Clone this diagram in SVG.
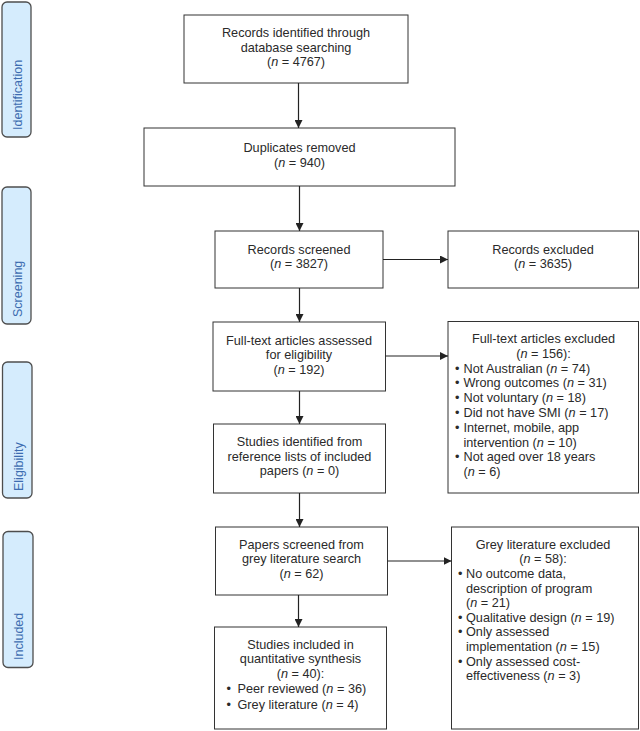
<svg xmlns="http://www.w3.org/2000/svg" width="640" height="731" viewBox="0 0 640 731">
<style>
.bx{fill:#fff;stroke:#333;stroke-width:1}
.st{fill:#d5ecfd;stroke:#4d4d4d;stroke-width:1.3}
.sl{font-family:"Liberation Sans",Arial,sans-serif;font-size:12.5px;fill:#3d6cb0}
text.t{font-family:"Liberation Sans",Arial,sans-serif;font-size:12.7px;fill:#2a2a2a}
.c{text-anchor:middle}
.ar{stroke:#222;stroke-width:1.2;fill:none;marker-end:url(#ah)}
</style>
<defs>
<marker id="ah" markerUnits="userSpaceOnUse" markerWidth="9" markerHeight="8" refX="8" refY="4" orient="auto">
<path d="M0,0 L8,4 L0,8 z" fill="#222"/>
</marker>
</defs>

<g id="stage-identification"><rect class="st" x="2" y="2" width="29" height="135" rx="5"/><text class="sl" transform="translate(22,130) rotate(-90)">Identification</text></g>
<g id="stage-screening"><rect class="st" x="2" y="187" width="29" height="137" rx="5"/><text class="sl" transform="translate(22,317) rotate(-90)">Screening</text></g>
<g id="stage-eligibility"><rect class="st" x="2.5" y="362" width="29.5" height="136" rx="5"/><text class="sl" transform="translate(22.5,491) rotate(-90)">Eligibility</text></g>
<g id="stage-included"><rect class="st" x="3" y="531.5" width="30" height="136" rx="5"/><text class="sl" transform="translate(23,660) rotate(-90)">Included</text></g>

<g id="records-identified"><rect class="bx" x="184" y="15" width="224" height="68"/>
<text class="t c" x="296" y="37.2">Records identified through</text>
<text class="t c" x="296" y="51.8">database searching</text>
<text class="t c" x="296" y="66.4">(<tspan font-style="italic">n</tspan> = 4767)</text></g>

<g id="duplicates"><rect class="bx" x="144" y="128" width="311" height="58"/>
<text class="t c" x="299.5" y="151.5">Duplicates removed</text>
<text class="t c" x="299.5" y="166.5">(<tspan font-style="italic">n</tspan> = 940)</text></g>

<g id="records-screened"><rect class="bx" x="215" y="231" width="168" height="57"/>
<text class="t c" x="299" y="253.6">Records screened</text>
<text class="t c" x="299" y="268.4">(<tspan font-style="italic">n</tspan> = 3827)</text></g>

<g id="records-excluded"><rect class="bx" x="448" y="231" width="190.5" height="57"/>
<text class="t c" x="543" y="253.6">Records excluded</text>
<text class="t c" x="543" y="268.4">(<tspan font-style="italic">n</tspan> = 3635)</text></g>

<g id="fulltext-assessed"><rect class="bx" x="213" y="322" width="172.5" height="69"/>
<text class="t c" x="299" y="344.5">Full-text articles assessed</text>
<text class="t c" x="299" y="359">for eligibility</text>
<text class="t c" x="299" y="373.5">(<tspan font-style="italic">n</tspan> = 192)</text></g>

<g id="fulltext-excluded"><rect class="bx" x="448" y="321.5" width="190.5" height="171.5"/>
<text class="t c" x="543.5" y="343">Full-text articles excluded</text>
<text class="t c" x="543.5" y="357.8">(<tspan font-style="italic">n</tspan> = 156):</text>
<text class="t" x="455" y="372.6">•</text><text class="t" x="463.5" y="372.6">Not Australian (<tspan font-style="italic">n</tspan> = 74)</text>
<text class="t" x="455" y="387.4">•</text><text class="t" x="463.5" y="387.4">Wrong outcomes (<tspan font-style="italic">n</tspan> = 31)</text>
<text class="t" x="455" y="402.2">•</text><text class="t" x="463.5" y="402.2">Not voluntary (<tspan font-style="italic">n</tspan> = 18)</text>
<text class="t" x="455" y="417">•</text><text class="t" x="463.5" y="417">Did not have SMI (<tspan font-style="italic">n</tspan> = 17)</text>
<text class="t" x="455" y="431.8">•</text><text class="t" x="463.5" y="431.8">Internet, mobile, app</text>
<text class="t" x="463.5" y="446.6">intervention (<tspan font-style="italic">n</tspan> = 10)</text>
<text class="t" x="455" y="461.4">•</text><text class="t" x="463.5" y="461.4">Not aged over 18 years</text>
<text class="t" x="463.5" y="476.2">(<tspan font-style="italic">n</tspan> = 6)</text></g>

<g id="studies-identified"><rect class="bx" x="213.5" y="424" width="172" height="69"/>
<text class="t c" x="299.5" y="446.2">Studies identified from</text>
<text class="t c" x="299.5" y="460.7">reference lists of included</text>
<text class="t c" x="299.5" y="475.2">papers (<tspan font-style="italic">n</tspan> = 0)</text></g>

<g id="papers-screened"><rect class="bx" x="215.5" y="527" width="172" height="68"/>
<text class="t c" x="301.5" y="548.8">Papers screened from</text>
<text class="t c" x="301.5" y="563.3">grey literature search</text>
<text class="t c" x="301.5" y="577.8">(<tspan font-style="italic">n</tspan> = 62)</text></g>

<g id="grey-excluded"><rect class="bx" x="451.5" y="527" width="187" height="202"/>
<text class="t c" x="543" y="548.8">Grey literature excluded</text>
<text class="t c" x="543" y="563.4">(<tspan font-style="italic">n</tspan> = 58):</text>
<text class="t" x="458" y="578">•</text><text class="t" x="466" y="578">No outcome data,</text>
<text class="t" x="466" y="592.6">description of program</text>
<text class="t" x="466" y="607.2">(<tspan font-style="italic">n</tspan> = 21)</text>
<text class="t" x="458" y="621.8">•</text><text class="t" x="466" y="621.8">Qualitative design (<tspan font-style="italic">n</tspan> = 19)</text>
<text class="t" x="458" y="636.4">•</text><text class="t" x="466" y="636.4">Only assessed</text>
<text class="t" x="466" y="651">implementation (<tspan font-style="italic">n</tspan> = 15)</text>
<text class="t" x="458" y="665.6">•</text><text class="t" x="466" y="665.6">Only assessed cost-</text>
<text class="t" x="466" y="680.2">effectiveness (<tspan font-style="italic">n</tspan> = 3)</text></g>

<g id="studies-included"><rect class="bx" x="214.5" y="627" width="172" height="102"/>
<text class="t c" x="300.5" y="648.8">Studies included in</text>
<text class="t c" x="300.5" y="663.4">quantitative synthesis</text>
<text class="t c" x="300.5" y="678">(<tspan font-style="italic">n</tspan> = 40):</text>
<text class="t" x="226.5" y="693.2">•</text><text class="t" x="237.5" y="693.2">Peer reviewed (<tspan font-style="italic">n</tspan> = 36)</text>
<text class="t" x="226.5" y="709.4">•</text><text class="t" x="237.5" y="709.4">Grey literature (<tspan font-style="italic">n</tspan> = 4)</text></g>

<g id="connectors">
<line class="ar" x1="298.5" y1="83" x2="298.5" y2="128"/>
<line class="ar" x1="299.5" y1="186" x2="299.5" y2="231"/>
<line class="ar" x1="299.5" y1="288" x2="299.5" y2="322"/>
<line class="ar" x1="299.5" y1="391" x2="299.5" y2="424"/>
<line class="ar" x1="299.5" y1="493" x2="299.5" y2="527"/>
<line class="ar" x1="298.5" y1="595" x2="298.5" y2="627"/>
<line class="ar" x1="383" y1="259.5" x2="448" y2="259.5"/>
<line class="ar" x1="385.5" y1="356" x2="448" y2="356"/>
<line class="ar" x1="387.5" y1="561" x2="451.5" y2="561"/>
</g>
</svg>
